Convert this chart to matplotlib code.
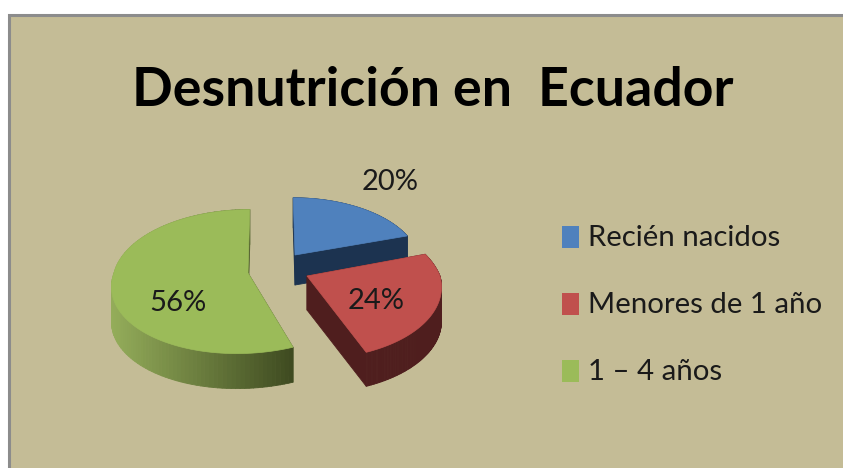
import numpy as np
import matplotlib
matplotlib.use("Agg")
import matplotlib.pyplot as plt
from matplotlib.patches import Polygon, Rectangle
from matplotlib.collections import PolyCollection
from matplotlib.colors import to_rgb

plt.rcParams['font.family'] = ['Lato', 'DejaVu Sans']

categories = ["Recién nacidos", "Menores de 1 año", "1 – 4 años"]
values = [20, 24, 56]
title = "Desnutrición en  Ecuador"

top_colors = ["#4f81bd", "#c0504d", "#9bbb59"]
side_left = ["#1c3350", "#4f1e1e", "#94ad5a"]
side_right = ["#1c3350", "#4f1e1e", "#3e4a20"]
# apex x, apex y, rx, ry, far shear, near shear, depth of each slice, in pixels
slice_geom = [(295, 255, 123, 64, -2, -2, 30),
              (307, 276, 133, 73, -13, -4, 34),
              (248, 273, 134, 71, 2, 10, 35)]
label_pos = [(390, 182), (376, 301), (178, 303)]
legend_y = [237, 304, 371]
PERSP = 0.119

fig = plt.figure(figsize=(8.43, 4.68), dpi=100, facecolor="white")
ax = fig.add_axes([0, 0, 1, 1])
ax.set_xlim(0, 843)
ax.set_ylim(468, 0)
ax.axis("off")

ax.add_patch(Rectangle((9, 15), 840, 460, facecolor="#c4bc96",
                       edgecolor="#8c8c8c", linewidth=2.2, zorder=0))


def outline(theta1, theta2, geom):
    ax0, ay0, rx, ry, s_far, s_near, _ = geom
    th = np.radians(np.linspace(theta1, theta2, 120))
    x, y = np.sin(th), np.cos(th)
    w = 1 + PERSP * y
    s = np.where(y > 0, s_far, s_near)
    px = ax0 + (rx * x + s * y) / w
    py = ay0 - ry * y / w
    return np.vstack([[ax0, ay0], np.column_stack([px, py]), [ax0, ay0]])


bounds = np.concatenate([[0], np.cumsum(values)]) * 360 / sum(values)
order = [0, 2, 1]  # back slice first, front slices over it
for z, i in enumerate(order):
    geom = slice_geom[i]
    pts = outline(bounds[i], bounds[i + 1], geom)
    depth = geom[6]
    quads, cols = [], []
    xmin, xmax = pts[:, 0].min(), pts[:, 0].max()
    c0, c1 = np.array(to_rgb(side_left[i])), np.array(to_rgb(side_right[i]))
    for a, b in zip(pts[:-1], pts[1:]):
        quads.append([a, b, b + [0, depth], a + [0, depth]])
        t = ((a[0] + b[0]) / 2 - xmin) / (xmax - xmin)
        cols.append(c0 + (c1 - c0) * t)
    ax.add_collection(PolyCollection(quads, facecolors=cols, edgecolors=cols,
                                     linewidths=0.6, zorder=2 + z))
    ax.add_patch(Polygon(pts, closed=True, facecolor=top_colors[i],
                         edgecolor=top_colors[i], linewidth=0.5, zorder=2 + z))

for v, (x, y) in zip(values, label_pos):
    ax.text(x, y, f"{v}%", fontsize=21, color="#1a1a1a", ha="center",
            va="center", zorder=10)

for name, color, y in zip(categories, top_colors, legend_y):
    ax.add_patch(Rectangle((562, y - 11), 17, 22, facecolor=color,
                           edgecolor="none", zorder=5))
    ax.text(588, y + 1, name, fontsize=21.2, color="#1a1a1a", ha="left",
            va="center", zorder=5)

ax.text(433, 90, title, fontsize=38.6, fontweight="bold", color="black",
        ha="center", va="center", zorder=5)

fig.savefig("out.png", dpi=100, facecolor="white")
